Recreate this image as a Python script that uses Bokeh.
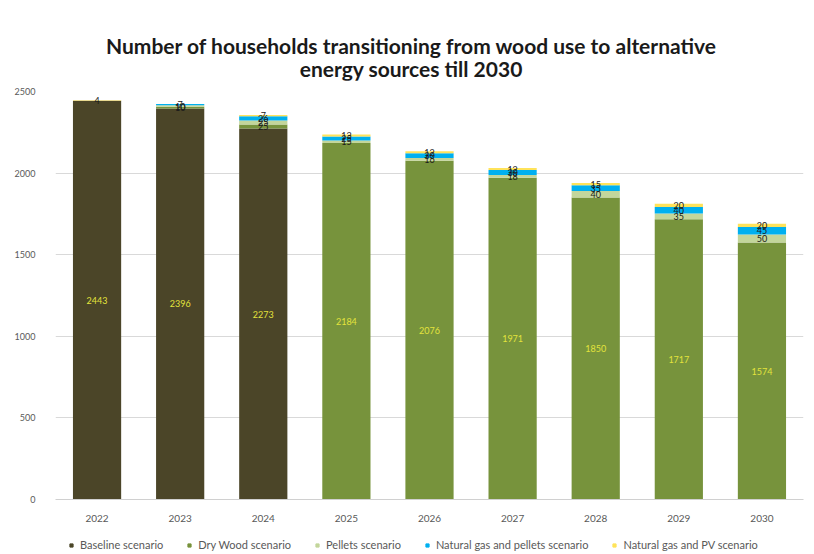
from bokeh.plotting import figure
from bokeh.layouts import column
from bokeh.models import Range1d, Legend, LegendItem, ColumnDataSource, SingleIntervalTicker, Div
from bokeh.core.properties import value
from bokeh.embed import file_html
from bokeh.resources import INLINE

years = ["2022", "2023", "2024", "2025", "2026", "2027", "2028", "2029", "2030"]
baseline = [2443, 2396, 2273, 0, 0, 0, 0, 0, 0]
dry_wood = [0, 10, 25, 2184, 2076, 1971, 1850, 1717, 1574]
pellets = [0, 10, 25, 15, 16, 18, 40, 35, 50]
ng_pellets = [0, 7, 26, 25, 30, 30, 35, 40, 45]
ng_pv = [4, 0, 7, 13, 12, 12, 15, 20, 20]

title_lines = ["Number of households transitioning from wood use to alternative",
               "energy sources till 2030"]
series_names = ["Baseline scenario", "Dry Wood scenario", "Pellets scenario",
                "Natural gas and pellets scenario", "Natural gas and PV scenario"]
keys = ["baseline", "dry_wood", "pellets", "ng_pellets", "ng_pv"]
colors = ["#4B4528", "#77933C", "#C3D69B", "#00B0F0", "#FFE35A"]

data = dict(years=years, baseline=baseline, dry_wood=dry_wood, pellets=pellets,
            ng_pellets=ng_pellets, ng_pv=ng_pv)
src = ColumnDataSource(data)

FONT = "Lato"

title = Div(text="<br>".join(title_lines), width=814, height=80,
            styles={"text-align": "center", "font-family": FONT, "font-weight": "bold",
                    "font-size": "21px", "line-height": "23px", "padding-top": "34px",
                    "padding-left": "8px", "color": "#1a1a1a", "box-sizing": "border-box",
                    "margin": "0"})

p = figure(x_range=years, y_range=Range1d(0, 2500), width=814, height=445,
           output_backend="svg", toolbar_location=None,
           min_border_left=55, min_border_right=11, min_border_top=11, min_border_bottom=26)

renderers = p.vbar_stack(keys, x="years", width=0.58, color=colors, source=src, line_color=None)

# data labels
lx, ly, lt, lc = [], [], [], []
for i, yr in enumerate(years):
    cum = 0
    for k in keys:
        v = data[k][i]
        if v > 0:
            lx.append(yr)
            ly.append(cum + v / 2)
            lt.append(str(v))
            lc.append("#E3E33C" if v > 500 else "#1a1a1a")
        cum += v
lsrc = ColumnDataSource(dict(x=lx, y=ly, t=lt, c=lc))
p.text(x="x", y="y", text="t", text_color="c", source=lsrc, text_align="center",
       text_baseline="middle", text_font=value(FONT), text_font_size="9px")

p.yaxis.ticker = SingleIntervalTicker(interval=500)
p.yaxis.axis_line_color = None
p.yaxis.major_tick_line_color = None
p.yaxis.minor_tick_line_color = None
p.yaxis.major_label_standoff = 14
p.yaxis.major_label_text_font_size = "9px"
p.yaxis.major_label_text_color = "#595959"
p.yaxis.major_label_text_font = FONT

p.xaxis.axis_line_color = "#d0d0d0"
p.xaxis.major_tick_line_color = None
p.xaxis.minor_tick_line_color = None
p.xaxis.major_label_standoff = 9
p.xaxis.major_label_text_font_size = "10px"
p.xaxis.major_label_text_color = "#595959"
p.xaxis.major_label_text_font = FONT

p.xgrid.grid_line_color = None
p.ygrid.grid_line_color = "#d9d9d9"
p.outline_line_color = None

# legend strip below the chart
pl = figure(width=814, height=29, output_backend="svg", toolbar_location=None,
            x_range=Range1d(0, 1), y_range=Range1d(0, 1),
            x_axis_location=None, y_axis_location=None,
            min_border_left=0, min_border_right=0, min_border_top=0, min_border_bottom=0)
pl.grid.visible = False
pl.outline_line_color = None
lrs = [pl.scatter(x=[-5], y=[-5], marker="square", size=9, color=c) for c in colors]
items = [LegendItem(label=n, renderers=[r]) for n, r in zip(series_names, lrs)]
legend = Legend(items=items, orientation="horizontal", location=(12, 3),
                label_text_font_size="11px", label_text_color="#595959",
                label_text_font=FONT, label_height=11,
                glyph_width=8, glyph_height=8, spacing=22, padding=2, margin=0,
                border_line_color=None, background_fill_alpha=0, label_standoff=5)
pl.add_layout(legend, "center")

layout = column(title, p, pl, spacing=0)
open("out.html", "w").write(file_html(layout, INLINE))
